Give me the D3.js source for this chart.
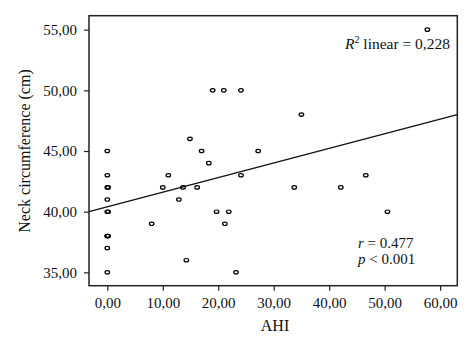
<!DOCTYPE html>
<html>
<head>
<meta charset="UTF-8">
<script src="https://d3js.org/d3.v7.min.js"></script>
<style>
  body { margin: 0; background: #fff; }
  text { font-family: "Liberation Serif", "DejaVu Serif", serif; fill: #111; }
  .axis path, .axis line { stroke: #222; stroke-width: 1.2px; }
  .axis text { font-size: 15px; }
  .dot { fill: none; stroke: #000; stroke-width: 1.2px; }
</style>
</head>
<body>
<div id="chart"></div>
<script>
// AHI vs neck circumference
const ahi  = [0, 0, 0, 0.15, 0, 0, 0.15, 0, 0, 0.15, 0, 0,
              8.0, 10.0, 11.0, 12.9, 13.65, 14.25, 14.9, 16.2, 17.0, 18.3, 19.0, 19.7,
              21.0, 21.2, 21.9, 23.2, 24.1, 24.1, 27.2, 33.7, 35.0, 42.1, 46.6, 50.5, 57.7];
const neck = [45, 43, 42, 42, 41, 40, 40, 38, 38, 38, 37, 35,
              39, 42, 43, 41, 42, 36, 46, 42, 45, 44, 50, 40,
              50, 39, 40, 35, 50, 43, 45, 42, 48, 42, 43, 40, 55];
const xTicks = [0, 10, 20, 30, 40, 50, 60];
const yTicks = [35, 40, 45, 50, 55];
// fitted line as it appears
const fitIntercept = 40.4;
const fitSlope = 0.1205;

const W = 474, H = 353;
const box = { left: 89, right: 457.3, top: 15.7, bottom: 285.7 };

const svg = d3.select("#chart").append("svg")
  .attr("width", W).attr("height", H);

const x = d3.scaleLinear().domain([-3.3, 63.1]).range([box.left, box.right]);
const y = d3.scaleLinear().domain([33.9, 56.15]).range([box.bottom, box.top]);

const fmt = d => d3.format(".2f")(d).replace(".", ",");

svg.append("g").attr("class", "axis")
  .attr("transform", `translate(0,${box.bottom})`)
  .call(d3.axisBottom(x).tickValues(xTicks).tickFormat(fmt).tickSize(5).tickPadding(7))
  .call(g => g.select(".domain").remove());

svg.append("g").attr("class", "axis")
  .attr("transform", `translate(${box.left},0)`)
  .call(d3.axisLeft(y).tickValues(yTicks).tickFormat(fmt).tickSize(5).tickPadding(7))
  .call(g => g.select(".domain").remove());

svg.append("rect")
  .attr("x", box.left).attr("y", box.top)
  .attr("width", box.right - box.left).attr("height", box.bottom - box.top)
  .attr("fill", "none").attr("stroke", "#222").attr("stroke-width", 1.5);

const [x0, x1] = x.domain();
svg.append("line")
  .attr("x1", x(x0)).attr("y1", y(fitIntercept + fitSlope * x0))
  .attr("x2", x(x1)).attr("y2", y(fitIntercept + fitSlope * x1))
  .attr("stroke", "#111").attr("stroke-width", 1.4);

svg.selectAll(".dot")
  .data(ahi.map((a, i) => ({ a, n: neck[i] })))
  .enter().append("ellipse")
  .attr("class", "dot")
  .attr("cx", d => x(d.a)).attr("cy", d => y(d.n))
  .attr("rx", 2.3).attr("ry", 1.7);

svg.append("text")
  .attr("x", W / 2 + 38).attr("y", 331)
  .attr("text-anchor", "middle").attr("font-size", 16)
  .text("AHI");

svg.append("text")
  .attr("transform", "translate(30,151) rotate(-90)")
  .attr("text-anchor", "middle").attr("font-size", 16)
  .text("Neck circumference (cm)");

const r2 = svg.append("text")
  .attr("x", 450).attr("y", 49)
  .attr("text-anchor", "end").attr("font-size", 15.5);
r2.append("tspan").attr("font-style", "italic").text("R");
r2.append("tspan").attr("font-size", 10).attr("dy", -6).text("2");
r2.append("tspan").attr("dy", 6).text(" linear = 0,228");

const rt = svg.append("text").attr("x", 358).attr("y", 248).attr("font-size", 15);
rt.append("tspan").attr("font-style", "italic").text("r");
rt.append("tspan").text(" = 0.477");
const pt = svg.append("text").attr("x", 358).attr("y", 264).attr("font-size", 15);
pt.append("tspan").attr("font-style", "italic").text("p");
pt.append("tspan").text(" < 0.001");
</script>
</body>
</html>
